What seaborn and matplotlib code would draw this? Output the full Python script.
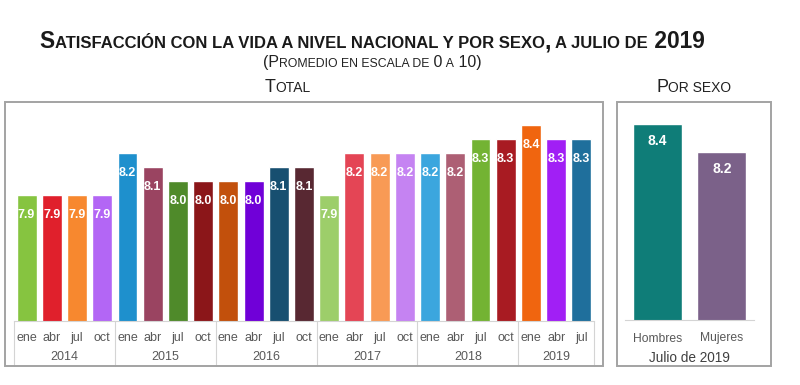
import pandas as pd
import matplotlib
matplotlib.use("Agg")
import matplotlib.pyplot as plt
import matplotlib.transforms as mtransforms
from matplotlib.patches import Rectangle
import seaborn as sns

# ======================
# Data
# ======================
years = ["2014", "2015", "2016", "2017", "2018", "2019"]
months = ["ene", "abr", "jul", "oct"]
total_values = [7.9, 7.9, 7.9, 7.9,
                8.2, 8.1, 8.0, 8.0,
                8.0, 8.0, 8.1, 8.1,
                7.9, 8.2, 8.2, 8.2,
                8.2, 8.2, 8.3, 8.3,
                8.4, 8.3, 8.3]
total_colors = ["#86c440", "#e0202c", "#f7882f", "#b366f5",
                "#1e90cd", "#9a4461", "#4f8a2a", "#8b1619",
                "#c2500c", "#7000d8", "#174f70", "#582832",
                "#9dce6a", "#e44555", "#f89a55", "#c583f2",
                "#3ba6de", "#ad5f74", "#73b333", "#a81b22",
                "#f0650f", "#a11ff5", "#1f6f9c"]

sexes = ["Hombres", "Mujeres"]
sex_values = [8.4, 8.2]
sex_colors = ["#0f7d78", "#7b6189"]

rows = []
for i, v in enumerate(total_values):
    rows.append({"periodo": f"{months[i % 4]} {years[i // 4]}",
                 "mes": months[i % 4], "anio": years[i // 4], "valor": v})
total = pd.DataFrame(rows)
sexo = pd.DataFrame({"sexo": sexes, "valor": sex_values})

# ======================
# Figure setup
# ======================
sns.set_style("white")
plt.rcParams["font.family"] = ["Liberation Sans", "DejaVu Sans"]

W, H = 800, 385
fig = plt.figure(figsize=(W / 100, H / 100), dpi=100)


def px_rect(x0, y0, x1, y1):
    # pixel box (top-left origin) -> figure fraction [l, b, w, h]
    return [x0 / W, 1 - y1 / H, (x1 - x0) / W, (y1 - y0) / H]


def small_caps(text, xc, y, big, small, **kw):
    # fake small caps: lowercase letters drawn as smaller capitals
    runs = []
    pending = ""
    for ch in text:
        if ch == " ":
            pending += ch
            continue
        cls = ch.islower()
        if runs and runs[-1][1] == cls:
            runs[-1][0] += pending + ch
        else:
            runs.append([pending + ch, cls])
        pending = ""
    renderer = fig.canvas.get_renderer()
    objs = []
    for s, cls in runs:
        t = fig.text(0, 1 - y / H, s.upper(), fontsize=small if cls else big,
                     va="baseline", ha="left", **kw)
        objs.append(t)
    widths = [t.get_window_extent(renderer).width for t in objs]
    x = xc - sum(widths) / 2
    for t, w in zip(objs, widths):
        t.set_x(x / W)
        x += w


line_grey = "#d4d4d4"
box_grey = "#a3a3a3"
tick_grey = "#595959"

# ======================
# Total panel
# ======================
base, scale = 7.0, 140.0
ax = fig.add_axes(px_rect(14, 102, 594, 321))
sns.barplot(data=total, x="periodo", y="valor", hue="periodo",
            palette=total_colors, legend=False, width=0.79,
            saturation=1, ax=ax)
ax.set_ylim(base, base + 219 / scale)
ax.set_xlim(-0.5, len(total_values) - 0.5)
for cont in ax.containers:
    ax.bar_label(cont, fmt="%.1f", padding=-19, color="white",
                 fontweight="bold", fontsize=9)
ax.set_xticks(range(len(total_values)))
ax.set_xticklabels(total["mes"], fontsize=9, color=tick_grey)
ax.tick_params(axis="x", length=0, pad=8)
ax.set_yticks([])
ax.set_xlabel("")
ax.set_ylabel("")
for s in ["top", "left", "right"]:
    ax.spines[s].set_visible(False)
ax.spines["bottom"].set_color(line_grey)
ax.spines["bottom"].set_linewidth(0.8)

trans = mtransforms.blended_transform_factory(ax.transData, ax.transAxes)
low = -(366 - 321) / 219
for xs in [-0.5, 3.5, 7.5, 11.5, 15.5, 19.5, 22.5]:
    ax.plot([xs, xs], [0, low], color=line_grey, lw=0.8,
            transform=trans, clip_on=False)
for k, yr in enumerate(years):
    members = total.index[total["anio"] == yr]
    ax.text(members.values.mean(), -(357 - 321) / 219, yr, transform=trans,
            ha="center", va="center", fontsize=9, color=tick_grey)

# ======================
# Por sexo panel
# ======================
ax2 = fig.add_axes(px_rect(625, 102, 754, 320))
sns.barplot(data=sexo, x="sexo", y="valor", hue="sexo", palette=sex_colors,
            legend=False, width=0.76, saturation=1, ax=ax2)
ax2.set_ylim(base, base + 218 / scale)
ax2.set_xlim(-0.5, 1.5)
for cont in ax2.containers:
    ax2.bar_label(cont, fmt="%.1f", padding=-17, color="white",
                  fontweight="bold", fontsize=10)
ax2.tick_params(axis="x", length=0, pad=9, labelsize=8.7, labelcolor=tick_grey)
ax2.set_yticks([])
ax2.set_ylabel("")
ax2.set_xlabel("Julio de 2019", fontsize=9.8, color="#404040", labelpad=5)
for s in ["top", "left", "right"]:
    ax2.spines[s].set_visible(False)
ax2.spines["bottom"].set_color(line_grey)
ax2.spines["bottom"].set_linewidth(0.8)

# ======================
# Frames and titles
# ======================
for x0, x1 in [(5, 603), (617, 771)]:
    fig.add_artist(Rectangle((x0 / W, 1 - 366 / H), (x1 - x0) / W, 264 / H,
                             transform=fig.transFigure, fill=False,
                             edgecolor=box_grey, lw=1.4))

small_caps("Satisfacción con la vida a nivel nacional y por sexo, a julio de 2019",
           372, 48, 16.4, 12, fontweight="bold", color="#1a1a1a")
small_caps("(Promedio en escala de 0 a 10)", 372, 67, 11.5, 8.8, color="#222222")
small_caps("Total", 288, 92, 13, 10, color="#222222")
small_caps("Por sexo", 694, 92, 13, 10, color="#222222")

fig.savefig("out.png", dpi=100)
